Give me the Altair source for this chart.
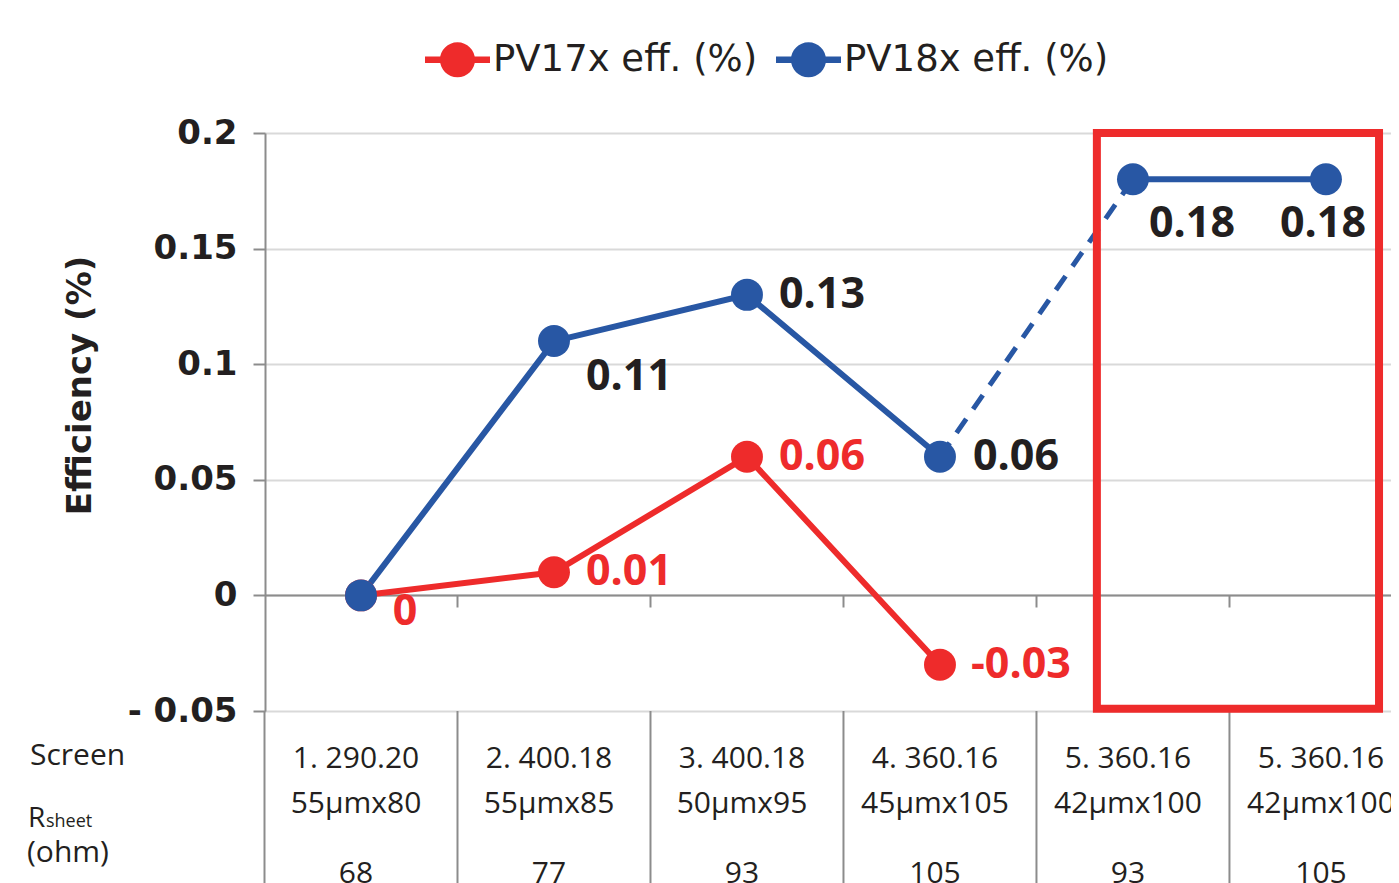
import altair as alt
import pandas as pd

# ---------------- data ----------------
cat_index = [0, 1, 2, 3, 4, 5]
screen_names = ["1. 290.20", "2. 400.18", "3. 400.18", "4. 360.16", "5. 360.16", "5. 360.16"]
mesh_specs = ["55μmx80", "55μmx85", "50μmx95", "45μmx105", "42μmx100", "42μmx100"]
rsheet_ohm = ["68", "77", "93", "105", "93", "105"]
series_names = ["PV17x eff. (%)", "PV18x eff. (%)"]
pv17_eff = [0, 0.01, 0.06, -0.03]
pv18_eff = [0, 0.11, 0.13, 0.06, 0.18, 0.18]
y_ticks = [-0.05, 0, 0.05, 0.1, 0.15, 0.2]
highlight_cats = [4, 5]
dashed_from = 3  # PV18x segment from category 4 to 5 is dashed

# ---------------- styles ----------------
RED = "#ee2b2b"
BLUE = "#2857a4"
INK = "#231f20"
AXIS = "#8c8c8c"
GRID = "#d9d9d9"
F_TAB = "Open Sans"
F_LAB = "Open Sans"
F_AX = "DejaVu Sans"

PLOT_W, PLOT_H = 1126, 578
PAD = {"left": 257, "top": 125, "right": 0, "bottom": 172}
x_dom = [-0.4974, 5.337]
y_dom = [-0.05, 0.2]

# ---------------- frames ----------------
pts = []
for s, vals in zip(series_names, [pv17_eff, pv18_eff]):
    for i, v in zip(cat_index, vals):
        pts.append({"series": s, "idx": i, "value": v, "label": f"{v:g}"})
pts = pd.DataFrame(pts)

segs = []
for i, v in zip(cat_index, pv17_eff):
    segs.append({"series": series_names[0], "idx": i, "value": v, "seg": "r", "dashed": False})
for i, v in zip(cat_index, pv18_eff):
    if i <= dashed_from:
        segs.append({"series": series_names[1], "idx": i, "value": v, "seg": "b1", "dashed": False})
    if i > dashed_from:
        segs.append({"series": series_names[1], "idx": i, "value": v, "seg": "b2", "dashed": False})
    if i in (dashed_from, dashed_from + 1):
        segs.append({"series": series_names[1], "idx": i, "value": v, "seg": "bd", "dashed": True})
segs = pd.DataFrame(segs)

table = pd.DataFrame({"idx": cat_index, "screen": screen_names, "mesh": mesh_specs, "rs": rsheet_ohm})
bounds = pd.DataFrame({"b": [i - 0.5 for i in cat_index]})
box = pd.DataFrame({"x": [min(highlight_cats) - 0.187], "x2": [max(highlight_cats) + 0.275],
                    "y": [y_dom[0] + 0.001], "y2": [y_dom[1]]})

xs = alt.Scale(domain=x_dom, nice=False, zero=False)
ys = alt.Scale(domain=y_dom, nice=False, zero=False)
cscale = alt.Scale(domain=series_names, range=[RED, BLUE])

X = alt.X("idx:Q", scale=xs, axis=alt.Axis(
    values=[i + 0.5 for i in cat_index[:-1]], labels=False, grid=False, title=None,
    tickSize=12, tickWidth=2, tickColor=AXIS, domainColor=AXIS, domainWidth=2, offset=-116))
Y = alt.Y("value:Q", scale=ys, axis=alt.Axis(
    values=y_ticks, title="Efficiency (%)",
    labelExpr="datum.value < 0 ? '- ' + toString(-datum.value) : toString(datum.value)",
    labelFont=F_AX, labelFontSize=34, labelFontWeight="bold", labelColor=INK, labelPadding=16,
    tickSize=12, tickWidth=2, tickColor=AXIS, domainColor=AXIS, domainWidth=2,
    grid=True, gridColor=GRID, gridWidth=2,
    titleFont=F_AX, titleFontSize=34, titleFontWeight="bold", titleColor=INK,
    titleAngle=270, titleX=-185, titleY=252, titleAlign="center", titleBaseline="middle"))

lines = alt.Chart(segs).transform_filter("!datum.dashed").mark_line(strokeWidth=6).encode(
    x=X, y=Y, color=alt.Color("series:N", scale=cscale, legend=None), detail="seg:N")
dash = alt.Chart(segs).transform_filter("datum.dashed").mark_line(strokeWidth=5, strokeDash=[17, 12]).encode(
    x=alt.X("idx:Q", scale=xs), y=alt.Y("value:Q", scale=ys),
    color=alt.Color("series:N", scale=cscale, legend=None), detail="seg:N")

legend = alt.Legend(
    orient="none", legendX=160, legendY=-106, direction="horizontal", columns=2, title=None,
    symbolType="M-1,-0.1H1V0.1H-1Z M0.54,0A0.54,0.54 0 1 1 -0.54,0A0.54,0.54 0 1 1 0.54,0Z",
    symbolSize=4225, symbolStrokeWidth=0, symbolOpacity=1,
    labelFont=F_AX, labelFontSize=37, labelColor=INK, labelOffset=3, labelLimit=0,
    columnPadding=18, padding=0)
points = alt.Chart(pts).mark_circle(size=1020, opacity=1).encode(
    x=alt.X("idx:Q", scale=xs), y=alt.Y("value:Q", scale=ys),
    color=alt.Color("series:N", scale=cscale, legend=legend))

# label placements (dx, dy, align) per (series index, category)
place = {
    (0, 0): (44, 17, "center"), (0, 1): (32, 0, "left"), (0, 2): (32, 0, "left"), (0, 3): (31, 0, "left"),
    (1, 1): (32, 36, "left"), (1, 2): (32, 0, "left"), (1, 3): (33, 0, "left"),
    (1, 4): (59, 45, "center"), (1, 5): (-3, 45, "center"),
}
label_layers = []
for (si, ci), (dx, dy, al) in place.items():
    label_layers.append(
        alt.Chart(pts).transform_filter(
            f"datum.series == '{series_names[si]}' && datum.idx == {ci}"
        ).mark_text(dx=dx, dy=dy, align=al, baseline="middle", font=F_LAB, fontSize=43,
                    fontWeight="bold", color=RED if si == 0 else INK).encode(
            x=alt.X("idx:Q", scale=xs), y=alt.Y("value:Q", scale=ys), text="label:N"))

hbox = alt.Chart(box).mark_rect(fillOpacity=0, stroke=RED, strokeWidth=8).encode(
    x=alt.X("x:Q", scale=xs), x2="x2:Q", y=alt.Y("y:Q", scale=ys), y2="y2:Q")

vlines = alt.Chart(bounds).mark_rule(color=AXIS, strokeWidth=2).encode(
    x=alt.X("b:Q", scale=xs), y=alt.value(PLOT_H), y2=alt.value(PLOT_H + PAD["bottom"]))

def trow(field, ypix):
    return alt.Chart(table).mark_text(font=F_TAB, fontSize=30, color=INK, baseline="middle", dx=-5).encode(
        x=alt.X("idx:Q", scale=xs), y=alt.value(ypix), text=f"{field}:N")

def side(txt, xpix, ypix, size, baseline="middle"):
    return alt.Chart(pd.DataFrame({"t": [txt]})).mark_text(
        font=F_TAB, fontSize=size, color=INK, align="left", baseline=baseline).encode(
        x=alt.value(xpix), y=alt.value(ypix), text="t:N")

chart = alt.layer(
    vlines, lines, dash, points, *label_layers, hbox,
    trow("screen", 626), trow("mesh", 671), trow("rs", 741),
    side("Screen", -235, 623, 30), side("R", -237, 694, 28, "alphabetic"),
    side("sheet", -219, 694, 18, "alphabetic"), side("(ohm)", -238, 729, 30, "alphabetic"),
).resolve_legend(color="independent").properties(
    width=PLOT_W, height=PLOT_H, padding=PAD, autosize=alt.AutoSizeParams(type="none")
).configure_view(stroke=None).configure(background="white")

chart.save("out.html", embed_options={"renderer": "svg", "actions": False})
